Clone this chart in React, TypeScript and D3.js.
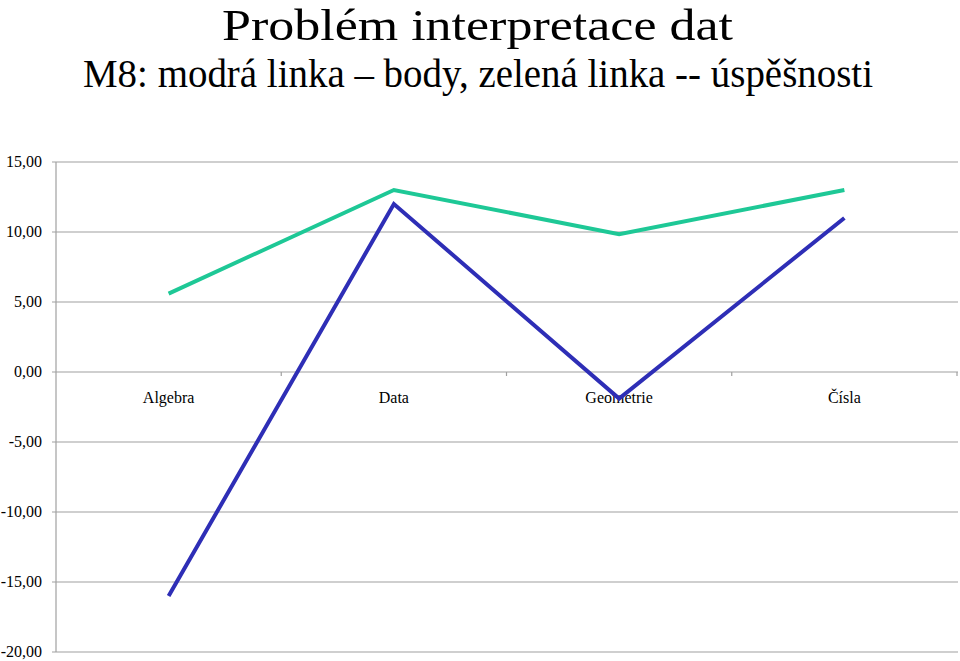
import React from "react";
import * as d3 from "d3";

const categories = ["Algebra", "Data", "Geometrie", "Čísla"];
const bodyValues = [-16.0, 12.0, -1.9, 11.0];
const uspesnostValues = [5.6, 13.0, 9.85, 13.0];
const yTicks = [15, 10, 5, 0, -5, -10, -15, -20];

const W = 960;
const H = 661;
const serif = "Liberation Serif, Times New Roman, DejaVu Serif, serif";

export default function App() {
  const x = d3.scaleBand<string>().domain(categories).range([56, 957]);
  const y = d3.scaleLinear().domain([-20, 15]).range([652, 162]);
  const fmt = (v: number) => d3.format(".2f")(v).replace(".", ",").replace("−", "-");
  const cx = (c: string) => (x(c) as number) + x.bandwidth() / 2;
  const line = d3
    .line<number>()
    .x((_, i) => cx(categories[i]))
    .y((d) => y(d));
  const boundaries = categories.map((c) => (x(c) as number) + x.bandwidth());
  const ts = { fontFamily: serif, fill: "#000" };

  return (
    <svg width={W} height={H} style={{ position: "absolute", left: 0, top: 0, background: "#fff" }}>
      <text x={477.5} y={40} fontSize={45} textAnchor="middle" textLength={511} lengthAdjust="spacingAndGlyphs" style={ts}>
        Problém interpretace dat
      </text>
      <text x={478} y={87} fontSize={39} textAnchor="middle" textLength={790} lengthAdjust="spacingAndGlyphs" style={ts}>
        M8: modrá linka – body, zelená linka -- úspěšnosti
      </text>

      {yTicks.map((t) => (
        <g key={t}>
          <line x1={52} x2={958} y1={y(t)} y2={y(t)} stroke="#a0a0a0" strokeWidth={1.2} />
          <text x={42} y={y(t) + 5} fontSize={16} textAnchor="end" style={ts}>
            {fmt(t)}
          </text>
        </g>
      ))}
      <line x1={56} x2={56} y1={y(15)} y2={y(-20)} stroke="#a0a0a0" strokeWidth={1.2} />
      {boundaries.map((b, i) => (
        <line key={i} x1={b} x2={b} y1={y(0)} y2={y(0) + 4} stroke="#a0a0a0" strokeWidth={1.2} />
      ))}
      {categories.map((c) => (
        <text key={c} x={cx(c)} y={403} fontSize={16} textAnchor="middle" style={ts}>
          {c}
        </text>
      ))}

      <path d={line(uspesnostValues) || ""} fill="none" stroke="#1ec896" strokeWidth={4} strokeLinejoin="miter" />
      <path d={line(bodyValues) || ""} fill="none" stroke="#2e2eb6" strokeWidth={4} strokeLinejoin="miter" />
    </svg>
  );
}
